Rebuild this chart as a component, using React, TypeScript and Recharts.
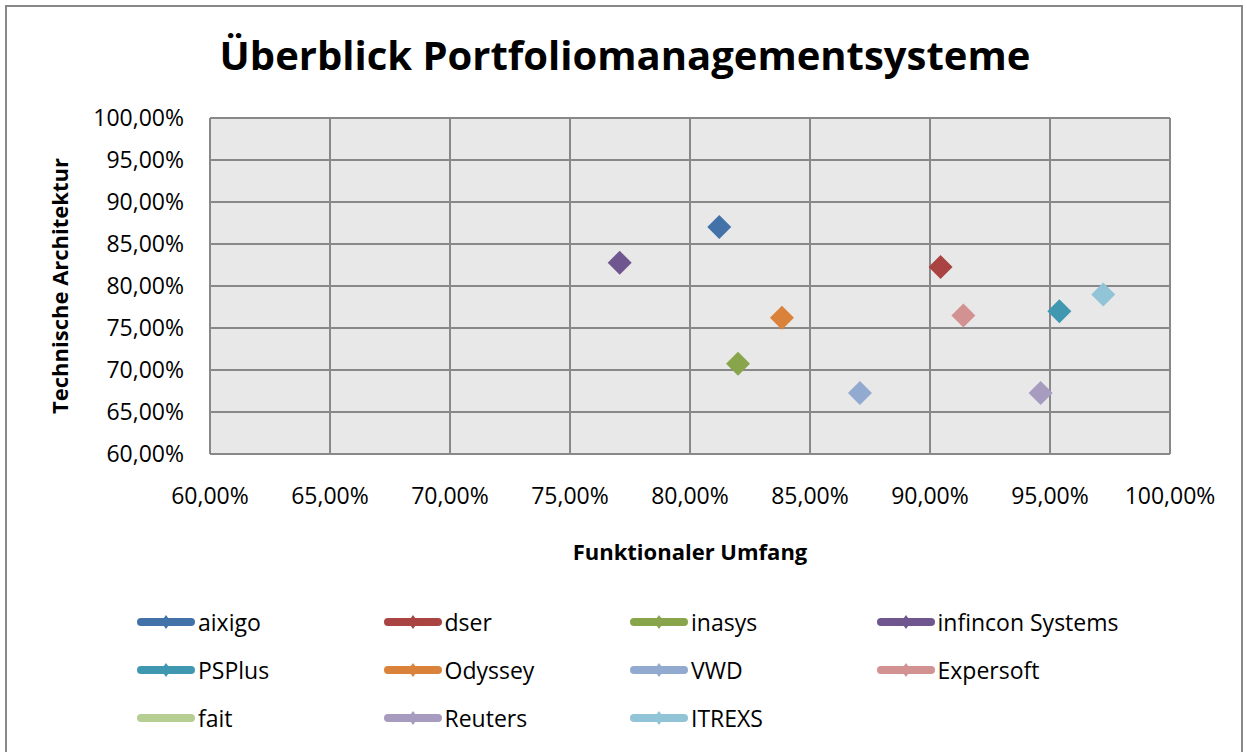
import React from "react";
import { ScatterChart, Scatter, XAxis, YAxis, CartesianGrid, Legend, Label } from "recharts";

const seriesNames = ["aixigo", "dser", "inasys", "infincon Systems", "PSPlus", "Odyssey", "VWD", "Expersoft", "fait", "Reuters", "ITREXS"];
const funktionalerUmfang: (number | null)[] = [81.22, 90.44, 82.0, 77.07, 95.39, 83.83, 87.08, 91.39, null, 94.61, 97.22];
const technischeArchitektur: (number | null)[] = [87.02, 82.26, 70.75, 82.77, 76.98, 76.23, 67.26, 76.5, null, 67.26, 79.0];
const seriesColors = ["#4372A8", "#A94442", "#88A54C", "#70568E", "#3F98B0", "#DB823A", "#92A9D0", "#D29291", "#B7CE93", "#A79BBF", "#91C4D6"];
const axisTicks = [60, 65, 70, 75, 80, 85, 90, 95, 100];

const FONT = "'Open Sans', sans-serif";

const fmt = (v: number) => v.toFixed(2).replace(".", ",") + "%";

const Diamond = (props: any) => {
  const { cx, cy, fill } = props;
  if (cx == null || cy == null) return null;
  const r = 12;
  return <polygon points={`${cx},${cy - r} ${cx + r},${cy} ${cx},${cy + r} ${cx - r},${cy}`} fill={fill} />;
};

const LegendContent = () => (
  <div style={{ display: "grid", gridTemplateColumns: "246.5px 246.5px 246.5px 246.5px", rowGap: 0, fontFamily: FONT }}>
    {seriesNames.map((n, i) => (
      <div key={n} style={{ display: "flex", alignItems: "center", height: 48 }}>
        <svg width={60} height={20} style={{ display: "block" }}>
          <line x1={4} y1={10} x2={54} y2={10} stroke={seriesColors[i]} strokeWidth={8} strokeLinecap="round" />
          {funktionalerUmfang[i] != null && (
            <polygon points="29,3 34,10 29,17 24,10" fill={seriesColors[i]} />
          )}
        </svg>
        <span style={{ fontSize: 23, color: "#000", marginLeft: 1, lineHeight: "20px" }}>{n}</span>
      </div>
    ))}
  </div>
);

export default function App() {
  return (
    <div style={{ position: "absolute", left: 0, top: 0, width: 1247, height: 752, background: "#fff", fontFamily: FONT }}>
      <div style={{ position: "absolute", left: 5, top: 5, width: 1238, height: 760, border: "2px solid #888", boxSizing: "border-box" }} />
      <div style={{ position: "absolute", left: 0, top: 27, width: 1250, textAlign: "center", fontSize: 40, fontWeight: 700, color: "#000" }}>
        Überblick Portfoliomanagementsysteme
      </div>
      <div style={{ position: "absolute", left: 0, top: 0 }}>
        <ScatterChart width={1247} height={752} margin={{ top: 118, right: 77, bottom: 44, left: 0 }} style={{ fontFamily: FONT }}>
          <CartesianGrid stroke="#888" strokeWidth={2} fill="#e8e8e8" horizontalValues={axisTicks} verticalValues={axisTicks} />
          <XAxis
            type="number"
            dataKey="x"
            domain={[60, 100]}
            ticks={axisTicks}
            tickFormatter={fmt}
            tickLine={false}
            tickSize={0}
            tickMargin={34}
            axisLine={{ stroke: "#888", strokeWidth: 2 }}
            tick={{ fill: "#000", fontSize: 23 }}
            height={110}
            interval={0}
          >
            <Label value="Funktionaler Umfang" position="insideBottom" offset={4} style={{ fontWeight: 700, fontSize: 22, fill: "#000" }} />
          </XAxis>
          <YAxis
            type="number"
            dataKey="y"
            domain={[60, 100]}
            ticks={axisTicks}
            tickFormatter={fmt}
            tickLine={false}
            tickSize={0}
            tickMargin={26}
            axisLine={{ stroke: "#888", strokeWidth: 2 }}
            tick={{ fill: "#000", fontSize: 23 }}
            width={210}
            interval={0}
          >
            <Label value="Technische Architektur" angle={-90} position="insideLeft" offset={60} style={{ fontWeight: 700, fontSize: 22, fill: "#000", textAnchor: "middle" }} />
          </YAxis>
          {seriesNames.map((n, i) => (
            <Scatter
              key={n}
              name={n}
              data={funktionalerUmfang[i] != null ? [{ x: funktionalerUmfang[i], y: technischeArchitektur[i] }] : []}
              fill={seriesColors[i]}
              shape={<Diamond />}
              isAnimationActive={false}
            />
          ))}
          <Legend content={<LegendContent />} wrapperStyle={{ left: 137, top: 598, width: 1000 }} />
        </ScatterChart>
      </div>
    </div>
  );
}
